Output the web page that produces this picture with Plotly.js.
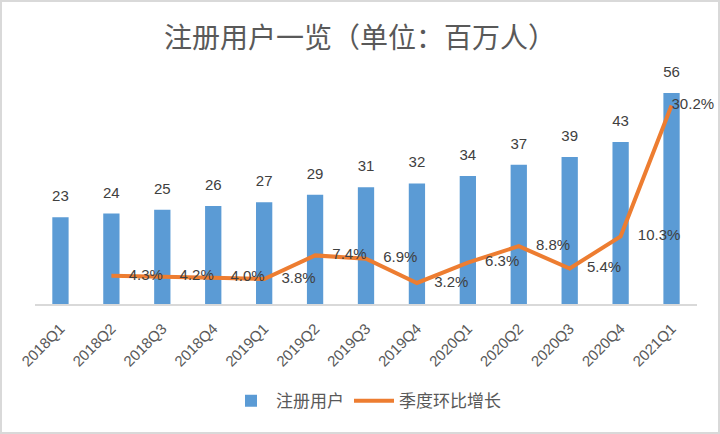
<!DOCTYPE html>
<html>
<head>
<meta charset="utf-8">
<script src="https://cdn.plot.ly/plotly-3.0.1.min.js"></script>
<style>
  html, body { margin: 0; padding: 0; background: #ffffff; }
  #chart { width: 720px; height: 434px; box-sizing: border-box; border: 2px solid #d9d9d9; }
</style>
</head>
<body>
<div id="chart"></div>
<script>
const categories = ['2018Q1','2018Q2','2018Q3','2018Q4','2019Q1','2019Q2','2019Q3','2019Q4','2020Q1','2020Q2','2020Q3','2020Q4','2021Q1'];
const users = [23, 24, 25, 26, 27, 29, 31, 32, 34, 37, 39, 43, 56];
const growthCategories = ['2018Q2','2018Q3','2018Q4','2019Q1','2019Q2','2019Q3','2019Q4','2020Q1','2020Q2','2020Q3','2020Q4','2021Q1'];
const growth = [0.043, 0.042, 0.040, 0.038, 0.074, 0.069, 0.032, 0.063, 0.088, 0.054, 0.103, 0.302];
const growthLabels = ['4.3%','4.2%','4.0%','3.8%','7.4%','6.9%','3.2%','6.3%','8.8%','5.4%','10.3%','30.2%'];

const labelFont = { family: 'Liberation Sans, Arial, sans-serif', size: 15, color: '#404040' };
const cjk = 'Noto Sans CJK SC, sans-serif';

const markerSizes = growth.map((v, i) => i === growth.length - 1 ? 0 : 26);

const traces = [
  {
    type: 'bar',
    name: '注册用户',
    x: categories,
    y: users,
    marker: { color: '#5B9BD5' },
    hoverinfo: 'x+y'
  },
  {
    type: 'scatter',
    mode: 'lines+markers+text',
    name: '季度环比增长',
    x: growthCategories,
    y: growth,
    yaxis: 'y2',
    text: growthLabels,
    textposition: 'middle right',
    textfont: labelFont,
    cliponaxis: false,
    line: { color: '#ED7D31', width: 4 },
    marker: { size: markerSizes, color: 'rgba(0,0,0,0)', line: { width: 0, color: 'rgba(0,0,0,0)' } }
  },
  {
    type: 'scatter',
    mode: 'markers+text',
    name: '注册用户标签',
    showlegend: false,
    x: categories,
    y: users,
    text: users.map(String),
    textposition: 'top center',
    textfont: labelFont,
    cliponaxis: false,
    marker: { size: 18, color: 'rgba(0,0,0,0)', line: { width: 0 } },
    hoverinfo: 'skip'
  }
];

const layout = {
  width: 716,
  height: 430,
  margin: { l: 33, r: 21, t: 76, b: 128 },
  paper_bgcolor: '#ffffff',
  plot_bgcolor: '#ffffff',
  font: { family: cjk, color: '#595959' },
  title: {
    text: '注册用户一览（单位：百万人）',
    font: { family: cjk, size: 28, color: '#595959' },
    x: 0.5, xanchor: 'center',
    y: 0.915, yanchor: 'middle'
  },
  bargap: 0.68,
  showlegend: true,
  legend: {
    orientation: 'h',
    x: 0.5, xanchor: 'center',
    y: -0.43, yanchor: 'middle',
    font: { family: cjk, size: 17, color: '#595959' },
    itemwidth: 40,
    traceorder: 'normal'
  },
  xaxis: {
    type: 'category',
    range: [-0.5, 12.5],
    tickangle: -45,
    tickfont: { family: 'Liberation Sans, Arial, sans-serif', size: 15, color: '#595959' },
    ticklabelstandoff: 8,
    showline: true,
    linecolor: '#d9d9d9',
    linewidth: 2,
    ticks: '',
    showgrid: false,
    fixedrange: true
  },
  yaxis: {
    range: [0, 60],
    visible: false,
    showgrid: false,
    zeroline: false,
    fixedrange: true
  },
  yaxis2: {
    range: [0, 0.344],
    overlaying: 'y',
    side: 'right',
    visible: false,
    showgrid: false,
    zeroline: false,
    fixedrange: true
  }
};

Plotly.newPlot('chart', traces, layout, { displayModeBar: false, staticPlot: true });
</script>
</body>
</html>
